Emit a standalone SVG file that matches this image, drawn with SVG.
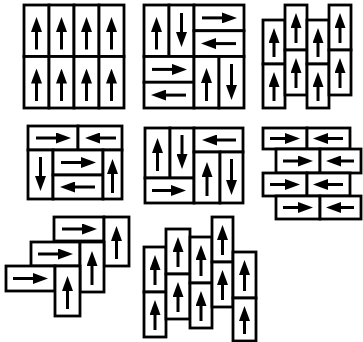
<svg xmlns="http://www.w3.org/2000/svg" width="363" height="342" viewBox="0 0 363 342">
<style>
.b{fill:#fff;stroke:#000;stroke-width:2.8}
.a{fill:none;stroke:#000;stroke-width:3;marker-end:url(#h)}
</style>
<defs>
<marker id="h" markerUnits="userSpaceOnUse" viewBox="0 0 15 11" refX="1" refY="5.5" markerWidth="15" markerHeight="11" orient="auto"><path d="M0,0L15,5.5L0,11Z" fill="#000"/></marker>
</defs>
<rect width="363" height="342" fill="#fff"/>
<g id="panel1">
<g id="p1a"><rect class="b" x="24" y="5" width="25" height="51.5"/><path class="a" d="M36.5,49.5V31"/></g>
<g id="p1b"><rect class="b" x="49" y="5" width="25" height="51.5"/><path class="a" d="M61.5,49.5V31"/></g>
<g id="p1c"><rect class="b" x="74" y="5" width="25" height="51.5"/><path class="a" d="M86.5,49.5V31"/></g>
<g id="p1d"><rect class="b" x="99" y="5" width="25" height="51.5"/><path class="a" d="M111.5,49.5V31"/></g>
<g id="p1e"><rect class="b" x="24" y="56.5" width="25" height="51.5"/><path class="a" d="M36.5,101V82.5"/></g>
<g id="p1f"><rect class="b" x="49" y="56.5" width="25" height="51.5"/><path class="a" d="M61.5,101V82.5"/></g>
<g id="p1g"><rect class="b" x="74" y="56.5" width="25" height="51.5"/><path class="a" d="M86.5,101V82.5"/></g>
<g id="p1h"><rect class="b" x="99" y="56.5" width="25" height="51.5"/><path class="a" d="M111.5,101V82.5"/></g>
</g>
<g id="panel2">
<g id="p2a"><rect class="b" x="144" y="5" width="25" height="51.5"/><path class="a" d="M156.5,49.5V31"/></g>
<g id="p2b"><rect class="b" x="169" y="5" width="25" height="51.5"/><path class="a" d="M181.5,13V33"/></g>
<g id="p2c"><rect class="b" x="194" y="5" width="50" height="25.75"/><path class="a" d="M202,17.9H223"/></g>
<g id="p2d"><rect class="b" x="194" y="30.75" width="50" height="25.75"/><path class="a" d="M236,43.6H215"/></g>
<g id="p2e"><rect class="b" x="144" y="56.5" width="50" height="25.75"/><path class="a" d="M152,69.4H173"/></g>
<g id="p2f"><rect class="b" x="144" y="82.25" width="50" height="25.75"/><path class="a" d="M186,95.1H165"/></g>
<g id="p2g"><rect class="b" x="194" y="56.5" width="25" height="51.5"/><path class="a" d="M206.5,101V82"/></g>
<g id="p2h"><rect class="b" x="219" y="56.5" width="25" height="51.5"/><path class="a" d="M231.5,64V86"/></g>
</g>
<g id="panel3">
<g id="p3a"><rect class="b" x="263" y="20" width="22" height="44"/><path class="a" d="M274,57V42"/></g>
<g id="p3b"><rect class="b" x="263" y="64" width="22" height="44"/><path class="a" d="M274,101V86"/></g>
<g id="p3c"><rect class="b" x="285" y="5" width="22" height="45"/><path class="a" d="M296,43V27"/></g>
<g id="p3d"><rect class="b" x="285" y="50" width="22" height="45"/><path class="a" d="M296,88V72"/></g>
<g id="p3e"><rect class="b" x="307" y="20" width="22" height="44"/><path class="a" d="M318,57V42"/></g>
<g id="p3f"><rect class="b" x="307" y="64" width="22" height="44"/><path class="a" d="M318,101V86"/></g>
<g id="p3g"><rect class="b" x="329" y="5" width="22" height="45"/><path class="a" d="M340,43V27"/></g>
<g id="p3h"><rect class="b" x="329" y="50" width="22" height="45"/><path class="a" d="M340,88V72"/></g>
</g>
<g id="panel4">
<g id="p4a"><rect class="b" x="28" y="126" width="50" height="24"/><path class="a" d="M36,138H57"/></g>
<g id="p4b"><rect class="b" x="78" y="126" width="44" height="24"/><path class="a" d="M116,138H99"/></g>
<g id="p4c"><rect class="b" x="28" y="150" width="25" height="49"/><path class="a" d="M40.5,157V177"/></g>
<g id="p4d"><rect class="b" x="53" y="150" width="50" height="25"/><path class="a" d="M61,162.5H82"/></g>
<g id="p4e"><rect class="b" x="53" y="175" width="50" height="24"/><path class="a" d="M95,187H74"/></g>
<g id="p4f"><rect class="b" x="103" y="150" width="19" height="49"/><path class="a" d="M112.5,193V173"/></g>
</g>
<g id="panel5">
<g id="p5a"><rect class="b" x="145" y="128" width="25" height="50"/><path class="a" d="M157.5,171V152"/></g>
<g id="p5b"><rect class="b" x="170" y="128" width="24" height="50"/><path class="a" d="M182,135V155"/></g>
<g id="p5c"><rect class="b" x="194" y="128" width="49" height="24"/><path class="a" d="M236,140H216"/></g>
<g id="p5d"><rect class="b" x="145" y="178" width="49" height="25"/><path class="a" d="M152,190.5H172"/></g>
<g id="p5e"><rect class="b" x="194" y="152" width="26" height="51"/><path class="a" d="M207,196V176"/></g>
<g id="p5f"><rect class="b" x="220" y="152" width="23" height="51"/><path class="a" d="M231.5,159V181"/></g>
</g>
<g id="panel6">
<g id="p6a"><rect class="b" x="263" y="128" width="44" height="21"/><path class="a" d="M270,138.5H286"/></g>
<g id="p6b"><rect class="b" x="307" y="128" width="43" height="21"/><path class="a" d="M343,138.5H327"/></g>
<g id="p6c"><rect class="b" x="276" y="149" width="44" height="24"/><path class="a" d="M283,161H299"/></g>
<g id="p6d"><rect class="b" x="320" y="149" width="41" height="24"/><path class="a" d="M354,161H340"/></g>
<g id="p6e"><rect class="b" x="263" y="173" width="44" height="23"/><path class="a" d="M270,184.5H286"/></g>
<g id="p6f"><rect class="b" x="307" y="173" width="43" height="23"/><path class="a" d="M343,184.5H327"/></g>
<g id="p6g"><rect class="b" x="276" y="196" width="44" height="23"/><path class="a" d="M283,207.5H299"/></g>
<g id="p6h"><rect class="b" x="320" y="196" width="41" height="23"/><path class="a" d="M354,207.5H340"/></g>
</g>
<g id="panel7">
<g id="p7a"><rect class="b" x="54" y="217" width="50" height="24"/><path class="a" d="M62,229H83"/></g>
<g id="p7b"><rect class="b" x="104" y="217" width="25" height="49"/><path class="a" d="M116.5,259V240"/></g>
<g id="p7c"><rect class="b" x="31" y="242" width="49" height="24"/><path class="a" d="M38,254H59"/></g>
<g id="p7d"><rect class="b" x="80" y="242" width="24" height="50"/><path class="a" d="M92,285V265"/></g>
<g id="p7e"><rect class="b" x="6" y="266" width="49" height="25"/><path class="a" d="M13,278.5H34"/></g>
<g id="p7f"><rect class="b" x="55" y="266" width="25" height="50"/><path class="a" d="M67.5,309V290"/></g>
</g>
<g id="panel8">
<g id="p8a"><rect class="b" x="144" y="247" width="22" height="45"/><path class="a" d="M155,285V269"/></g>
<g id="p8b"><rect class="b" x="144" y="292" width="22" height="45"/><path class="a" d="M155,330V314"/></g>
<g id="p8c"><rect class="b" x="166" y="229" width="24" height="45"/><path class="a" d="M178,267V251"/></g>
<g id="p8d"><rect class="b" x="166" y="274" width="24" height="45"/><path class="a" d="M178,312V296"/></g>
<g id="p8e"><rect class="b" x="190" y="237" width="22" height="46"/><path class="a" d="M201,276V259"/></g>
<g id="p8f"><rect class="b" x="190" y="283" width="22" height="45"/><path class="a" d="M201,321V305"/></g>
<g id="p8g"><rect class="b" x="212" y="217" width="21" height="45"/><path class="a" d="M222.5,255V239"/></g>
<g id="p8h"><rect class="b" x="212" y="262" width="21" height="45"/><path class="a" d="M222.5,300V284"/></g>
<g id="p8i"><rect class="b" x="233" y="252" width="23" height="46"/><path class="a" d="M244.5,291V274"/></g>
<g id="p8j"><rect class="b" x="233" y="298" width="23" height="43"/><path class="a" d="M244.5,334V320"/></g>
</g>
</svg>
